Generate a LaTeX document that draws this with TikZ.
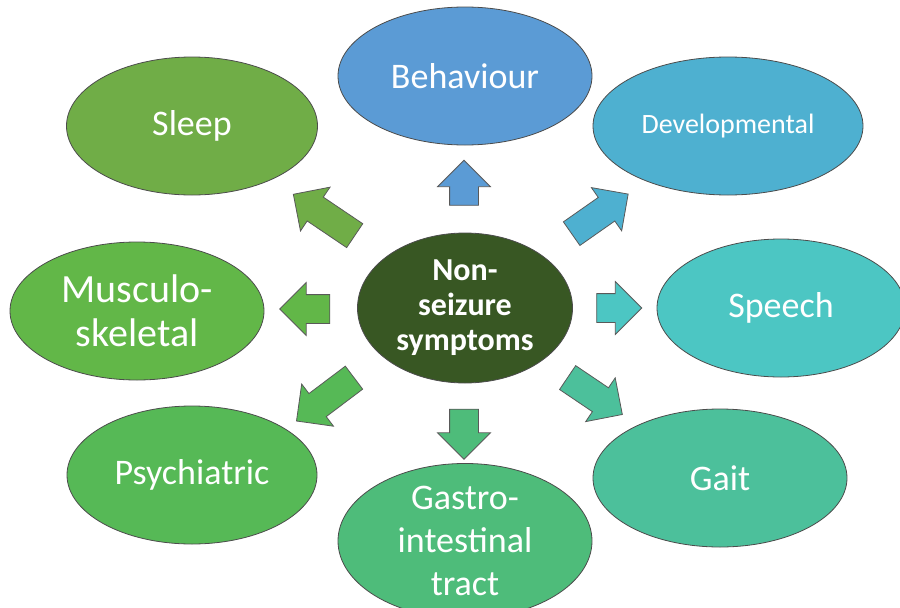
\documentclass[tikz,border=0pt]{standalone}
\usepackage{fontspec}
\setmainfont{Carlito}
\usepackage{xcolor}
\usetikzlibrary{shapes.geometric, shapes.arrows}

\definecolor{coreC}{RGB}{56,87,35}
\definecolor{behC}{RGB}{91,155,213}
\definecolor{devC}{RGB}{78,176,208}
\definecolor{speechC}{RGB}{76,198,195}
\definecolor{gaitC}{RGB}{76,192,155}
\definecolor{gastroC}{RGB}{78,188,122}
\definecolor{psychC}{RGB}{86,185,86}
\definecolor{muscC}{RGB}{98,183,72}
\definecolor{sleepC}{RGB}{112,173,71}

\begin{document}
\begin{tikzpicture}[
  x=1pt, y=-1pt,
  bubble/.style={ellipse, draw=black!70, line width=0.8pt, minimum width=254pt,
                 minimum height=138pt, inner sep=0pt, text=white, align=center,
                 font=\fontsize{36}{43}\selectfont},
  core/.style={bubble, fill=coreC, minimum width=215pt, minimum height=150pt,
               font=\fontsize{32}{35}\selectfont\bfseries},
  blockarrow/.style={single arrow, draw=black!65, line width=0.8pt, inner xsep=0pt,
                     inner ysep=14pt, single arrow head extend=12pt}
]
  \useasboundingbox (0,0) rectangle (900,608);

  %--- Centre ---
  \node[core] (core) at (465,308) {Non-\\seizure\\symptoms};

  %--- Outer bubbles ---
  \node[bubble, fill=behC]    (behav)  at (465,76)  {Behaviour};
  \node[bubble, fill=devC, minimum width=270pt, font=\fontsize{28}{34}\selectfont]
                              (devel)  at (728,126) {Developmental};
  \node[bubble, fill=speechC, minimum width=248pt] (speech) at (781,308) {Speech};
  \node[bubble, fill=gaitC]   (gait)   at (720,478) {Gait};
  \node[bubble, fill=gastroC] (gastro) at (465,541) {Gastro-\\intestinal\\tract};
  \node[bubble, fill=psychC, minimum width=250pt]  (psych)  at (192,475) {Psychiatric};
  \node[bubble, fill=muscC, font=\fontsize{40}{44}\selectfont]
                              (musc)   at (137,311) {Musculo-\\skeletal};
  \node[bubble, fill=sleepC, minimum width=251pt]  (sleep)  at (192,126) {Sleep};

  %--- Block arrows ---
  \node[blockarrow, fill=behC, rotate=90, minimum height=45pt]     (aBehav)  at (464,190) {};
  \node[blockarrow, fill=devC, rotate=35, minimum height=69pt]     (aDevel)  at (594,218) {};
  \node[blockarrow, fill=speechC, rotate=0, minimum height=45pt]   (aSpeech) at (612,308) {};
  \node[blockarrow, fill=gaitC, rotate=-34, minimum height=66pt]   (aGait)   at (589,392) {};
  \node[blockarrow, fill=gastroC, rotate=-90, minimum height=50pt] (aGastro) at (464,427) {};
  \node[blockarrow, fill=psychC, rotate=217, minimum height=72pt]  (aPsych)  at (331,395) {};
  \node[blockarrow, fill=muscC, rotate=180, minimum height=50pt]   (aMusc)   at (312,309) {};
  \node[blockarrow, fill=sleepC, rotate=146, minimum height=74pt]  (aSleep)  at (330,219) {};

\end{tikzpicture}
\end{document}
